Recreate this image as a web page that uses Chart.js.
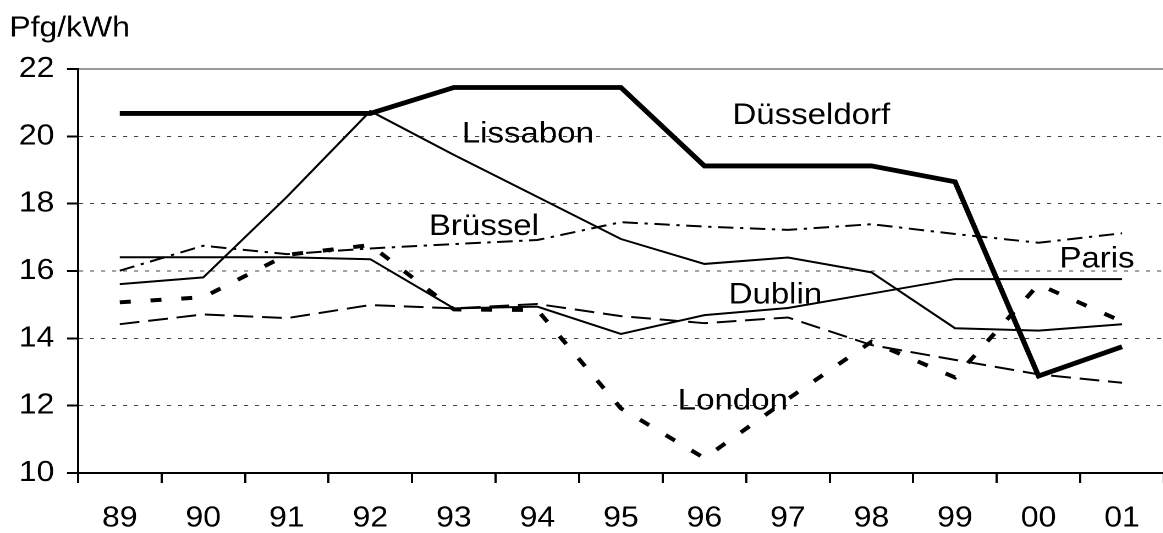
<!DOCTYPE html>
<html><head><meta charset="utf-8">
<script src="https://cdn.jsdelivr.net/npm/chart.js@4"></script>
<style>
html,body{margin:0;padding:0;background:#fff;overflow:hidden;width:1163px;height:533px}
#wrap{position:absolute;left:0;top:0;width:1060px;height:533px;transform:scaleX(1.1);transform-origin:0 0}
</style></head><body>
<div id="wrap"><canvas id="c" width="1060" height="533"></canvas></div>
<script>
const years = ['89','90','91','92','93','94','95','96','97','98','99','00','01'];
const yTicks = [10, 12, 14, 16, 18, 20, 22];
const duesseldorf = [20.68, 20.68, 20.68, 20.68, 21.45, 21.45, 21.45, 19.12, 19.12, 19.12, 18.65, 12.88, 13.75];
const lissabon    = [15.61, 15.81, 18.2, 20.75, 19.45, 18.2, 16.95, 16.21, 16.40, 15.96, 14.30, 14.23, 14.42];
const bruessel    = [16.01, 16.75, 16.50, 16.67, 16.80, 16.92, 17.45, 17.32, 17.22, 17.39, 17.10, 16.84, 17.12];
const paris       = [16.41, 16.41, 16.41, 16.35, 14.89, 14.94, 14.13, 14.69, 14.90, 15.33, 15.76, 15.76, 15.76];
const london      = [15.07, 15.22, 16.48, 16.77, 14.86, 14.84, 11.92, 10.44, 12.20, 13.90, 12.84, 15.60, 14.50];
const dublin      = [14.42, 14.71, 14.60, 14.99, 14.89, 15.02, 14.66, 14.45, 14.62, 13.80, 13.36, 12.93, 12.68];

// city name annotations, anchored in data units (category index, value at baseline)
const cityNames = ['Düsseldorf', 'Lissabon', 'Brüssel', 'Paris', 'Dublin', 'London'];
const cityIdx   = [8.28, 4.886, 4.36, 11.70, 7.85, 7.34];
const cityVal   = [20.36, 19.82, 17.07, 16.10, 15.04, 11.89];

const FONT = '"Liberation Sans", Arial, sans-serif';

const cityLabels = {
  id: 'cityLabels',
  afterDatasetsDraw(chart) {
    const {ctx, scales: {x, y}} = chart;
    ctx.save();
    ctx.font = '30px ' + FONT;
    ctx.fillStyle = '#000';
    ctx.textAlign = 'center';
    ctx.textBaseline = 'alphabetic';
    cityNames.forEach((t, i) => {
      ctx.fillText(t, x.getPixelForValue(cityIdx[i]), y.getPixelForValue(cityVal[i]));
    });
    ctx.restore();
  }
};

function ds(label, data, width, dash) {
  return {label, data, borderColor: '#000', backgroundColor: '#000', borderWidth: width,
    borderDash: dash, pointRadius: 0, pointHoverRadius: 0, tension: 0, fill: false,
    borderCapStyle: 'butt', borderJoinStyle: 'miter'};
}

new Chart(document.getElementById('c'), {
  type: 'line',
  data: {
    labels: years,
    datasets: [
      ds('Dublin', dublin, 2, [18, 8]),
      ds('Paris', paris, 2, []),
      ds('Brüssel', bruessel, 2, [14, 6, 3, 6]),
      ds('Lissabon', lissabon, 2, []),
      ds('London', london, 4, [10, 18]),
      ds('Düsseldorf', duesseldorf, 4.8, [])
    ]
  },
  options: {
    responsive: false,
    devicePixelRatio: 2,
    animation: false,
    layout: {padding: {left: 8.5, right: 2, top: 0, bottom: 0}},
    plugins: {
      legend: {display: false},
      tooltip: {enabled: false},
      title: {
        display: true, text: 'Pfg/kWh', align: 'start', color: '#000',
        font: {family: FONT, size: 29, weight: 'normal'},
        padding: {top: 11, bottom: 23.2}
      }
    },
    scales: {
      x: {
        type: 'category',
        offset: true,
        grid: {offset: true, drawOnChartArea: false, drawTicks: true, tickLength: 10,
               tickWidth: 2, tickColor: '#000', color: '#000'},
        border: {display: true, color: '#000', width: 2},
        ticks: {color: '#000', font: {family: FONT, size: 29}, padding: 18, maxRotation: 0, autoSkip: false},
        afterFit: s => { s.height = 60; }
      },
      y: {
        min: 10, max: 22,
        afterBuildTicks: s => { s.ticks = yTicks.map(v => ({value: v})); },
        ticks: {color: '#000', font: {family: FONT, size: 29}, padding: 11.5},
        grid: {
          color: c => (c.tick && c.tick.value === 22) ? '#999' : (c.tick && c.tick.value === 10 ? 'rgba(0,0,0,0)' : '#444'),
          lineWidth: c => (c.tick && c.tick.value === 22) ? 2 : 1,
          drawTicks: true, tickLength: 10, tickWidth: 2, tickColor: '#000', tickBorderDash: []
        },
        border: {
          display: true, color: '#000', width: 2,
          dash: c => (c.tick && c.tick.value === 22) ? [] : [3.6, 6.4]
        },
        afterFit: s => { s.width = 62.4; }
      }
    }
  },
  plugins: [cityLabels]
});
</script>
</body></html>
